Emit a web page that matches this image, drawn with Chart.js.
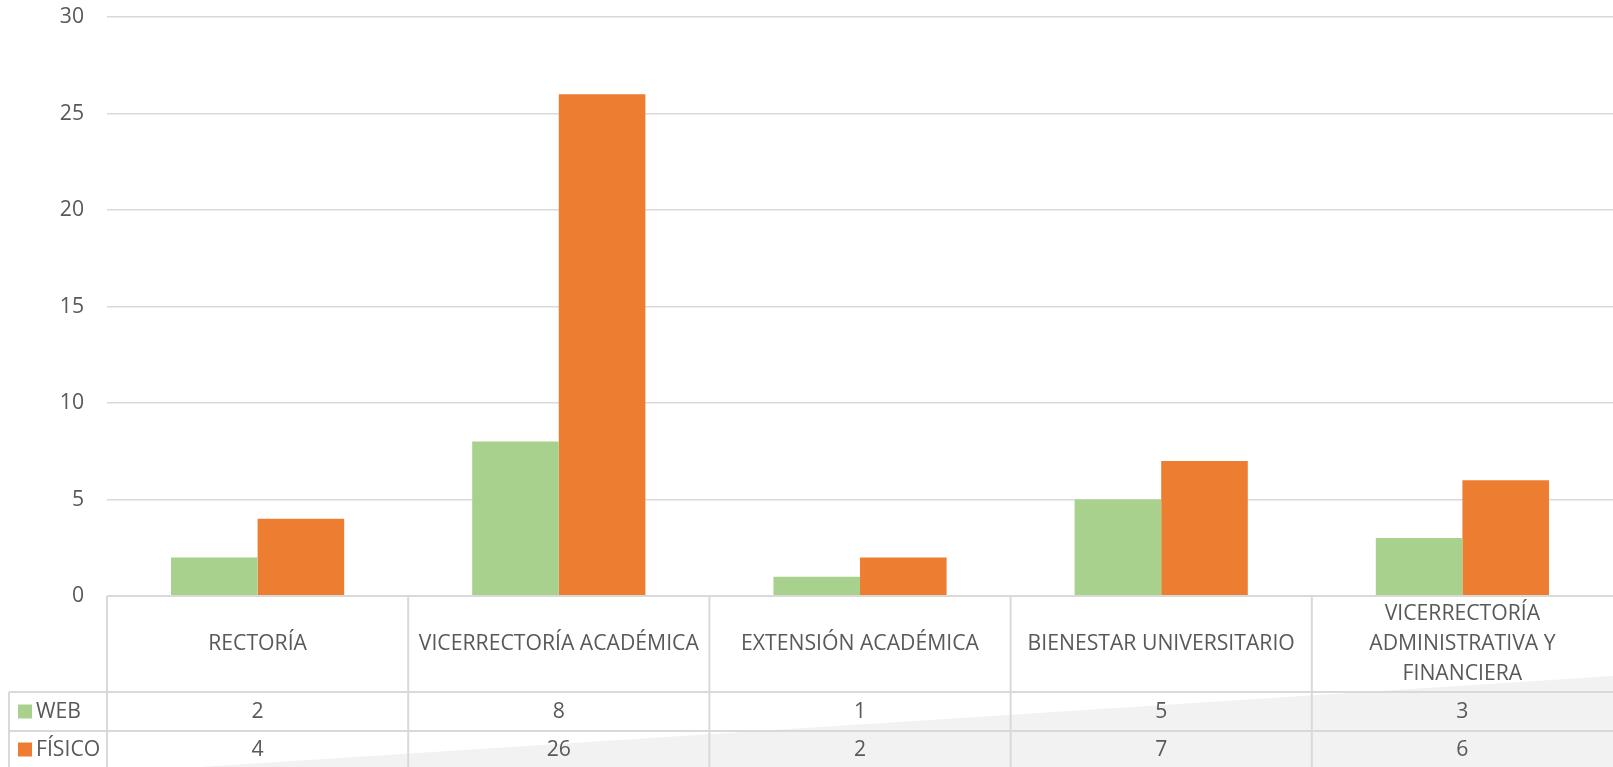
<!DOCTYPE html>
<html>
<head>
<meta charset="utf-8">
<script src="https://cdn.jsdelivr.net/npm/chart.js@4/dist/chart.umd.min.js"></script>
<style>
  html, body { margin: 0; padding: 0; background: #ffffff; }
  canvas { display: block; }
</style>
</head>
<body>
<canvas id="chart" width="1613" height="767"></canvas>
<script>
// Dependencias por canal de radicación
const categories = [
  'RECTORÍA',
  'VICERRECTORÍA ACADÉMICA',
  'EXTENSIÓN ACADÉMICA',
  'BIENESTAR UNIVERSITARIO',
  ['VICERRECTORÍA', 'ADMINISTRATIVA Y', 'FINANCIERA']
];
const seriesNames = ['WEB', 'FÍSICO'];
const webValues = [2, 8, 1, 5, 3];
const fisicoValues = [4, 26, 2, 7, 6];
const yMin = 0, yMax = 30, yStep = 5;

const colors = ['#a9d18e', '#ed7d31'];
const textColor = '#595959';
const lineColor = '#d9d9d9';
const fontFamily = "'Open Sans', 'DejaVu Sans', sans-serif";
const fontSize = 21.2;

// Data table drawn under the plot area (category row + one row per series)
const dataTablePlugin = {
  id: 'dataTable',
  beforeDraw(chart) {
    const ctx = chart.ctx;
    const W = chart.width, H = chart.height;
    // soft grey sheen across the lower right of the table
    ctx.save();
    ctx.fillStyle = '#f2f2f2';
    ctx.beginPath();
    ctx.moveTo(200, H);
    ctx.lineTo(W, H - 91);
    ctx.lineTo(W, H);
    ctx.closePath();
    ctx.fill();
    ctx.restore();
  },
  afterDraw(chart) {
    const ctx = chart.ctx;
    const area = chart.chartArea;
    const xs = chart.scales.x;
    const top = area.bottom;
    const headerBottom = top + 96;
    const row1Bottom = headerBottom + 39;
    const bottom = chart.height;
    const legendLeft = 9;

    // column boundaries from the category scale
    const centers = categories.map((_, i) => xs.getPixelForValue(i));
    const half = (centers[1] - centers[0]) / 2;
    const bounds = [centers[0] - half].concat(centers.map(c => c + half));

    ctx.save();
    ctx.strokeStyle = lineColor;
    ctx.lineWidth = 2;
    ctx.beginPath();
    ctx.moveTo(bounds[0], top); ctx.lineTo(area.right, top);
    ctx.moveTo(legendLeft, headerBottom); ctx.lineTo(area.right, headerBottom);
    ctx.moveTo(legendLeft, row1Bottom); ctx.lineTo(area.right, row1Bottom);
    bounds.forEach((b, i) => {
      if (i === bounds.length - 1) return;
      ctx.moveTo(b, top); ctx.lineTo(b, bottom);
    });
    ctx.moveTo(legendLeft, headerBottom); ctx.lineTo(legendLeft, bottom);
    ctx.stroke();

    ctx.fillStyle = textColor;
    ctx.font = fontSize + 'px ' + fontFamily;
    ctx.textAlign = 'center';
    ctx.textBaseline = 'middle';

    // category header row
    const headerMid = (top + headerBottom) / 2;
    const lineH = 30;
    categories.forEach((cat, i) => {
      const lines = Array.isArray(cat) ? cat : [cat];
      const y0 = headerMid - (lines.length - 1) * lineH / 2;
      lines.forEach((ln, k) => ctx.fillText(ln, centers[i], y0 + k * lineH));
    });

    // series rows
    const rows = [
      { name: seriesNames[0], values: webValues, color: colors[0], mid: (headerBottom + row1Bottom) / 2 },
      { name: seriesNames[1], values: fisicoValues, color: colors[1], mid: (row1Bottom + bottom) / 2 + 0.5 }
    ];
    rows.forEach(r => {
      ctx.fillStyle = r.color;
      ctx.fillRect(18, r.mid - 7, 14, 14);
      ctx.fillStyle = textColor;
      ctx.textAlign = 'left';
      ctx.fillText(r.name, 36, r.mid);
      ctx.textAlign = 'center';
      r.values.forEach((v, i) => ctx.fillText(String(v), centers[i], r.mid));
    });
    ctx.restore();
  }
};

new Chart(document.getElementById('chart'), {
  type: 'bar',
  data: {
    labels: categories,
    datasets: [
      { label: seriesNames[0], data: webValues, backgroundColor: colors[0], borderWidth: 0 },
      { label: seriesNames[1], data: fisicoValues, backgroundColor: colors[1], borderWidth: 0 }
    ]
  },
  options: {
    responsive: false,
    devicePixelRatio: 1,
    animation: false,
    layout: { padding: { top: 17, right: 0, bottom: 171, left: 0 } },
    datasets: { bar: { categoryPercentage: 0.575, barPercentage: 1.0 } },
    plugins: { legend: { display: false }, tooltip: { enabled: false } },
    scales: {
      x: { display: false },
      y: {
        min: yMin,
        max: yMax,
        ticks: {
          stepSize: yStep,
          padding: 23,
          color: textColor,
          font: { family: fontFamily, size: fontSize }
        },
        grid: { color: lineColor, lineWidth: 1.5, drawTicks: false },
        border: { display: false },
        afterFit(scale) {
          scale.width = 107;
          scale.paddingTop = 0;
          scale.paddingBottom = 0;
        }
      }
    }
  },
  plugins: [dataTablePlugin]
});
</script>
</body>
</html>
